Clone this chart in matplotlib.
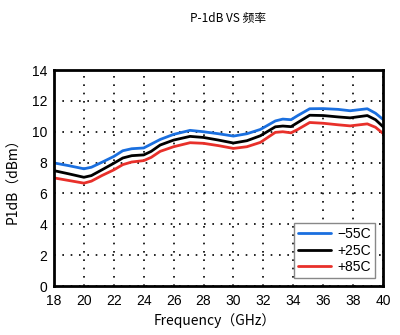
import matplotlib
matplotlib.use('Agg')
import matplotlib.pyplot as plt

plt.rcParams['font.family'] = ['Liberation Sans', 'Noto Sans CJK SC', 'DejaVu Sans']

# frequency points (GHz)
freq = [18, 19, 20, 20.5, 21.2, 22, 22.6, 23.2, 24, 24.5, 25.1, 26, 27.1, 28, 29, 30,
        30.9, 31.8, 32.8, 33.3, 33.85, 34.3, 35.1, 36, 37, 37.8, 38.95, 39.5, 40]

# P1dB (dBm) at each temperature
p_m55 = [7.98, 7.8, 7.6, 7.7, 8.02, 8.4, 8.77, 8.9, 8.95, 9.2, 9.5, 9.83, 10.09, 10.0, 9.87, 9.72,
         9.87, 10.15, 10.7, 10.82, 10.78, 11.05, 11.49, 11.5, 11.45, 11.36, 11.49, 11.2, 10.8]
p_25 = [7.48, 7.27, 7.05, 7.16, 7.53, 7.96, 8.3, 8.45, 8.5, 8.73, 9.14, 9.46, 9.7, 9.63, 9.46, 9.27,
        9.42, 9.74, 10.32, 10.37, 10.33, 10.6, 11.07, 11.05, 10.96, 10.9, 11.05, 10.78, 10.33]
p_85 = [7.01, 6.84, 6.67, 6.8, 7.16, 7.53, 7.87, 8.04, 8.13, 8.34, 8.73, 9.03, 9.29, 9.25, 9.1, 8.92,
        9.03, 9.31, 9.96, 10.0, 9.93, 10.15, 10.6, 10.55, 10.45, 10.38, 10.51, 10.29, 9.89]

labels = ['\u221255C', '+25C', '+85C']
colors = ['#1a6fdf', 'black', '#e8302a']

xticks = list(range(18, 41, 2))
yticks = list(range(0, 15, 2))

fig = plt.figure(figsize=(4, 3.35), dpi=100)
ax = fig.add_axes([0.135, 0.146, 0.8225, 0.645])

for y, lab, c in zip([p_m55, p_25, p_85], labels, colors):
    ax.plot(freq, y, color=c, lw=2, label=lab, solid_joinstyle='round', solid_capstyle='round')

ax.set_xlim(18, 40)
ax.set_ylim(0, 14)
ax.set_xticks(xticks)
ax.set_yticks(yticks)
ax.tick_params(labelsize=10, direction='in', length=0)
ax.tick_params(axis='x', pad=6)
ax.tick_params(axis='y', pad=5)
ax.grid(True, color='black', linestyle=(0, (1, 4)), linewidth=1.2)
for s in ax.spines.values():
    s.set_linewidth(2)

ax.set_xlabel('Frequency\uff08GHz\uff09', fontsize=10, family=['Noto Sans CJK SC'])
ax.xaxis.set_label_coords(0.49, -0.125)
ax.set_ylabel('P1dB\uff08dBm\uff09', fontsize=10, family=['Noto Sans CJK SC'])
ax.yaxis.set_label_coords(-0.103, 0.5)
fig.text(0.57, 0.945, 'P-1dB VS 频率', ha='center', va='center', fontsize=8.5,
         family=['Noto Sans CJK SC'], fontweight='medium')

leg = ax.legend(loc='lower right', fontsize=10, fancybox=False, framealpha=1,
                edgecolor='#888888', handlelength=2.4, handletextpad=0.45,
                borderaxespad=0.55, labelspacing=0.2, borderpad=0.3)
leg.get_frame().set_linewidth(1)

fig.savefig('out.png', dpi=100)
